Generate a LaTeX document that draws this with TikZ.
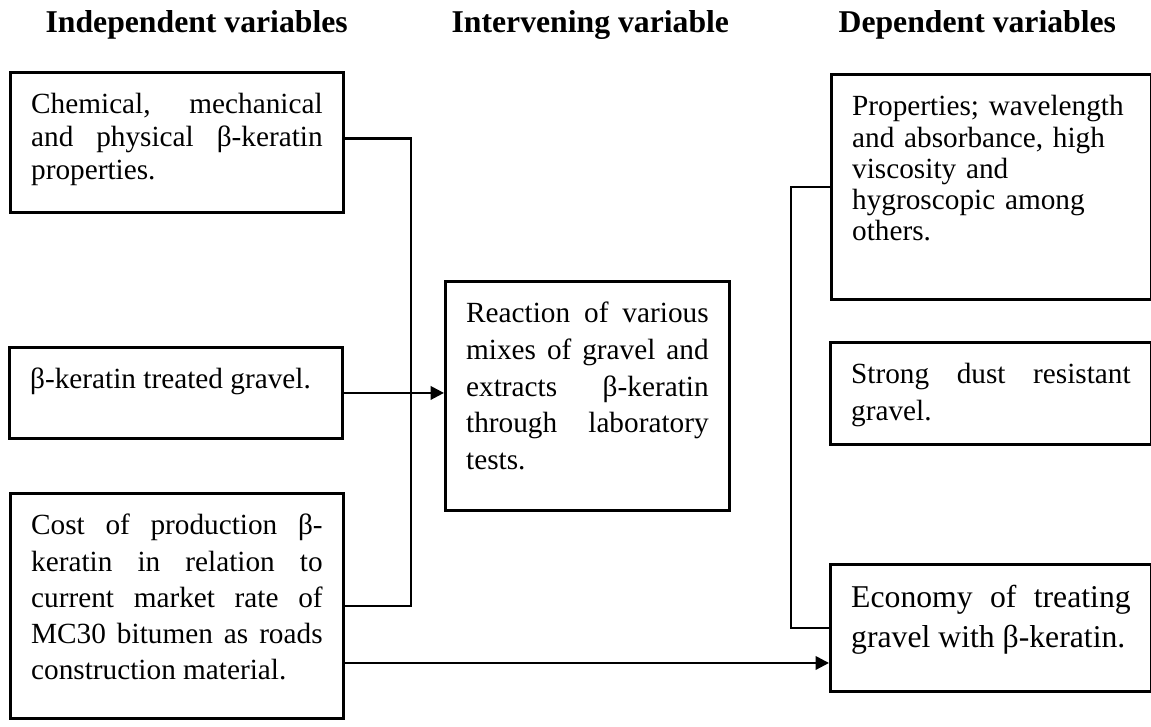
\documentclass[tikz,border=0pt]{standalone}
\usepackage{fontspec}
\setmainfont{Liberation Serif}
\usetikzlibrary{arrows.meta}

\begin{document}
\begin{tikzpicture}[x=0.41pt,y=-0.41pt,
    varbox/.style={draw,line width=1.2pt,anchor=north west,inner sep=8.5pt,
      text height=8.5pt,align=justify},
    link/.style={line width=1pt},
    arr/.style={line width=1pt,-{Triangle[length=5.5pt,width=5.5pt]}}]

  \useasboundingbox (0,0) rectangle (1151,726);

  % column headings
  \begin{scope}[every node/.style={anchor=base west,font=\fontsize{13}{15}\selectfont\bfseries}]
    \node (hind) at (37,33)  {Independent variables};
    \node (hint) at (443,33) {Intervening variable};
    \node (hdep) at (830,33) {Dependent variables};
  \end{scope}

  % independent variables
  \node[varbox,text width=119.5pt,text depth=31.9pt,font=\fontsize{12}{13.5}\selectfont]
    (chem) at (9,71) {Chemical, mechanical\linebreak and physical β-keratin\linebreak properties.};
  \node[varbox,text width=119.5pt,text depth=11.8pt,font=\fontsize{12}{14}\selectfont]
    (treat) at (8,346) {β-keratin treated gravel.};
  \node[varbox,text width=119.5pt,text depth=66.7pt,font=\fontsize{12}{14.8}\selectfont]
    (cost) at (9,492) {Cost of production β-\linebreak keratin in relation to\linebreak current market rate of\linebreak MC30 bitumen as roads\linebreak construction material.};

  % intervening variable
  \node[varbox,text width=99.4pt,text depth=68.4pt,font=\fontsize{12}{15}\selectfont]
    (react) at (444,280) {Reaction of various\linebreak mixes of gravel and\linebreak extracts β-keratin\linebreak through laboratory\linebreak tests.};

  % dependent variables
  \node[varbox,align=left,text width=114.2pt,text depth=66.7pt,font=\fontsize{12}{12.8}\selectfont]
    (prop) at (830,73) {Properties; wavelength\\and absorbance, high\\viscosity and\\hygroscopic among\\others.};
  \node[varbox,text width=114.6pt,text depth=16.3pt,font=\fontsize{12}{14.8}\selectfont]
    (dust) at (829,341) {Strong dust resistant\linebreak gravel.};
  \node[varbox,text width=114.6pt,text height=9.2pt,text depth=25.9pt,font=\fontsize{13}{16.4}\selectfont]
    (econ) at (829,563) {Economy of treating\linebreak gravel with β-keratin.};

  % connectors
  \draw[link] ([yshift=1.6pt]chem.east) -- ++(66,0) |- (cost.east);
  \draw[arr] (treat.east) -- (treat.east -| react.west);
  \path ([yshift=-23.4pt]cost.east) coordinate (costlow);
  \draw[arr] (costlow) -- (costlow -| econ.west);
  \draw[link] (prop.west) -- ++(-39,0) |- (econ.west);

\end{tikzpicture}
\end{document}
